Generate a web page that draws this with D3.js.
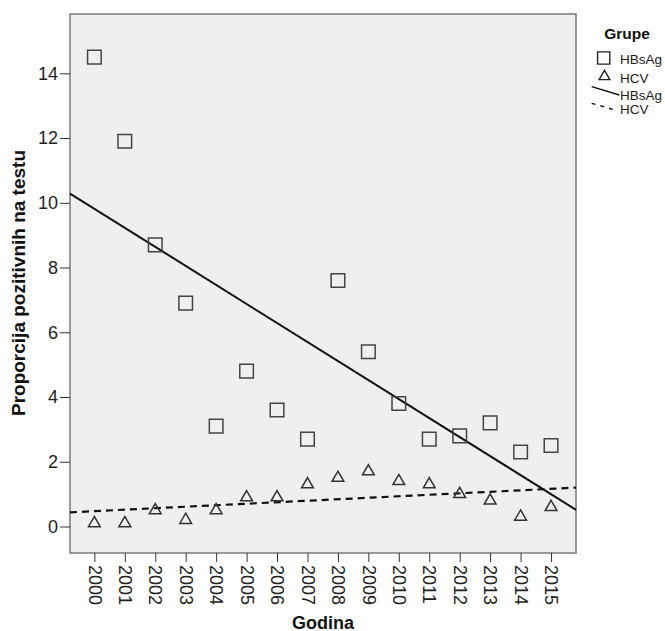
<!DOCTYPE html>
<html><head><meta charset="utf-8">
<script src="https://cdn.jsdelivr.net/npm/d3@7"></script>
<style>body{margin:0;background:#fff;font-family:"Liberation Sans",Arial,sans-serif}</style>
</head><body><svg id="c" width="665" height="631"></svg>
<script>
const years = [2000,2001,2002,2003,2004,2005,2006,2007,2008,2009,2010,2011,2012,2013,2014,2015];
const hbsag = [14.5,11.9,8.7,6.9,3.1,4.8,3.6,2.7,7.6,5.4,3.8,2.7,2.8,3.2,2.3,2.5];
const hcv = [0.1,0.1,0.5,0.2,0.5,0.9,0.9,1.3,1.5,1.7,1.4,1.3,1.0,0.8,0.3,0.6];
const yTicks = [0,2,4,6,8,10,12,14];
const legendTitle = "Grupe";
const seriesNames = ["HBsAg","HCV"];

const svg = d3.select("#c");
const L=70, R=576, T=14, B=553;
const x = d3.scaleLinear().domain([1999.2,2015.82]).range([L,R]);
const y = d3.scaleLinear().domain([0,14]).range([526.5,73.3]);
const tickFont = "'Liberation Sans Narrow', 'Arial Narrow', 'Liberation Sans', Arial";

svg.append("rect").attr("x",L).attr("y",T).attr("width",R-L).attr("height",B-T)
  .attr("fill","#efefef").attr("stroke","#7a7a7a").attr("stroke-width",1.5);

// axes
const ya = svg.append("g").attr("transform",`translate(${L},0)`)
  .call(d3.axisLeft(y).tickValues(yTicks).tickSize(10).tickPadding(2).tickFormat(d3.format("d")));
ya.select(".domain").remove();
ya.selectAll("line").attr("stroke","#333");
ya.selectAll("text").attr("font-size",18).attr("fill","#222").attr("font-family",tickFont);

const xa = svg.append("g").attr("transform",`translate(0,${B})`)
  .call(d3.axisBottom(x).tickValues(years).tickSize(9).tickFormat(d3.format("d")));
xa.select(".domain").remove();
xa.selectAll("line").attr("stroke","#333");
xa.selectAll("text").attr("font-size",18).attr("fill","#222").attr("font-family",tickFont)
  .attr("transform","rotate(90)").attr("text-anchor","start").attr("dy","0.35em").attr("x",12).attr("y",0);

// titles
svg.append("text").attr("x",323).attr("y",628.5).attr("text-anchor","middle")
  .attr("font-weight","bold").attr("font-size",18).attr("fill","#111").text("Godina");
svg.append("text").attr("transform",`translate(25,283) rotate(-90)`).attr("text-anchor","middle")
  .attr("font-weight","bold").attr("font-size",19).attr("fill","#111").text("Proporcija pozitivnih na testu");

// regression
function fit(vals){
  const mx=d3.mean(years), my=d3.mean(vals);
  let sxy=0,sxx=0; years.forEach((v,i)=>{sxy+=(v-mx)*(vals[i]-my); sxx+=(v-mx)**2;});
  const b=sxy/sxx; return t=>my+b*(t-mx);
}
const [x0,x1]=x.domain();
const f1=fit(hbsag), f2=fit(hcv);
svg.append("line").attr("x1",x(x0)).attr("x2",x(x1)).attr("y1",y(f1(x0))).attr("y2",y(f1(x1)))
  .attr("stroke","#111").attr("stroke-width",2);
svg.append("line").attr("x1",x(x0)).attr("x2",x(x1)).attr("y1",y(f2(x0))).attr("y2",y(f2(x1)))
  .attr("stroke","#111").attr("stroke-width",2.2).attr("stroke-dasharray","7,5");

// markers
const sq = d3.symbol().type(d3.symbolSquare).size(185);
const tri = d3.symbol().type(d3.symbolTriangle).size(60);
svg.append("g").selectAll("path").data(years).join("path")
  .attr("d",sq).attr("transform",(d,i)=>`translate(${x(d)},${y(hbsag[i])})`)
  .attr("fill","none").attr("stroke","#444").attr("stroke-width",1.5);
svg.append("g").selectAll("path").data(years).join("path")
  .attr("d",tri).attr("transform",(d,i)=>`translate(${x(d)},${y(hcv[i])})`)
  .attr("fill","none").attr("stroke","#333").attr("stroke-width",1.5);

// legend
const lg = svg.append("g");
lg.append("text").attr("x",627).attr("y",38.5).attr("text-anchor","middle").attr("font-weight","bold")
  .attr("font-size",15.5).attr("fill","#111").text(legendTitle);
lg.append("path").attr("d",d3.symbol().type(d3.symbolSquare).size(150)).attr("transform","translate(603.7,58)")
  .attr("fill","none").attr("stroke","#222").attr("stroke-width",1.4);
lg.append("path").attr("d",d3.symbol().type(d3.symbolTriangle).size(50)).attr("transform","translate(604.5,76.5)")
  .attr("fill","none").attr("stroke","#222").attr("stroke-width",1.4);
lg.append("line").attr("x1",591.7).attr("y1",86.7).attr("x2",619.3).attr("y2",95).attr("stroke","#111").attr("stroke-width",1.4);
lg.append("line").attr("x1",591.7).attr("y1",103.3).attr("x2",615).attr("y2",110).attr("stroke","#111").attr("stroke-width",1.4).attr("stroke-dasharray","4,5");
const labs=[[64.3,seriesNames[0]],[83.3,seriesNames[1]],[100,seriesNames[0]],[114,seriesNames[1]]];
labs.forEach(([yy,t])=>lg.append("text").attr("x",620).attr("y",yy)
  .attr("font-size",13.5).attr("fill","#222").text(t));
</script></body></html>
